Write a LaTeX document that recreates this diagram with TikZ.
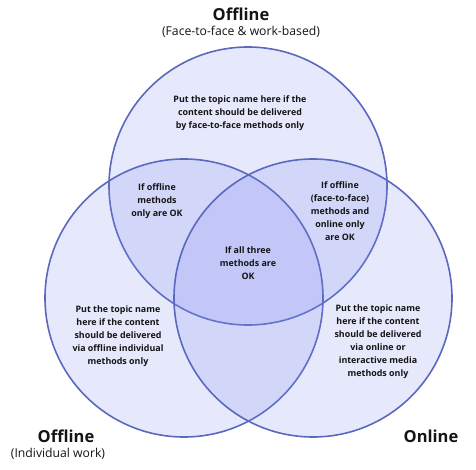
\documentclass[tikz,border=0pt]{standalone}
\usepackage{fontspec}
\setmainfont{Open Sans}
\usepackage{tikz}
\usetikzlibrary{positioning}
\definecolor{ring}{HTML}{5A68BE}
\definecolor{lilac}{HTML}{7C88EE}
\definecolor{ink}{HTML}{141414}

\begin{document}
\begin{tikzpicture}[
    x=1pt, y=-1pt,
    venn/.style={circle, draw=ring, line width=1.6pt, fill=lilac, fill opacity=0.19,
                 minimum size=278pt, inner sep=0pt},
    note/.style={align=center, text=ink, font=\bfseries\fontsize{8.9}{13}\selectfont, inner sep=1pt},
    head/.style={align=center, text=ink, font=\bfseries\fontsize{16.5}{18}\selectfont, inner sep=1pt},
    sub/.style={align=center, text=ink, font=\fontsize{12.2}{14}\selectfont, inner sep=1pt}
  ]
  \useasboundingbox (0,0) rectangle (476,470);

  \node[venn] (face) at (248,186) {};
  \node[venn] (indiv) at (184,298) {};
  \node[venn] (online) at (313,298) {};

  \node[head] (facehead) at (241,14) {Offline};
  \node[sub, below=3pt of facehead] (facesub) {(Face-to-face \& work-based)};
  \node[head] (indivhead) at (66,436) {Offline};
  \node[sub, below=3pt of indivhead, xshift=-8pt] (indivsub) {(Individual work)};
  \node[head] (onlinehead) at (431,436) {Online};

  \node[note] (faceonly) at (240,113) {Put the topic name here if the\\content should be delivered\\by face-to-face methods only};
  \node[note] (faceindiv) at (157,201) {If offline\\methods\\only are OK};
  \node[note] (faceonline) at (340,211) {If offline\\(face-to-face)\\methods and\\online only\\are OK};
  \node[note] (allthree) at (248,263) {If all three\\methods are\\OK};
  \node[note] (indivonly) at (118,336) {Put the topic name\\here if the content\\should be delivered\\via offline individual\\methods only};
  \node[note] (onlineonly) at (378,342) {Put the topic name\\here if the content\\should be delivered\\via online or\\interactive media\\methods only};
\end{tikzpicture}
\end{document}
